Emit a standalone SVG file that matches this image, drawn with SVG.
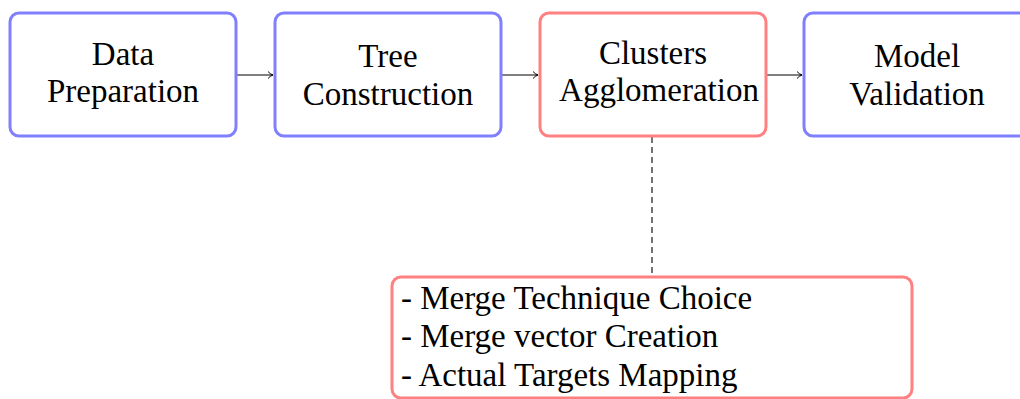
<svg xmlns="http://www.w3.org/2000/svg" width="1020" height="399" viewBox="0 0 1020 399">
<style>
.blue{fill:#fff;stroke:#8080ff;stroke-width:3}
.red{fill:#fff;stroke:#ff8080;stroke-width:3}
.t{font-family:"Liberation Serif","Times New Roman",serif;font-size:33px;fill:#000}
.c{text-anchor:middle}
.ln{stroke:#000;stroke-width:1.1;fill:none}
</style>
<defs>
<marker id="ah" markerWidth="10" markerHeight="10" refX="8" refY="5" orient="auto" markerUnits="userSpaceOnUse">
<path d="M3,1.5 Q5,4 8,5 Q5,6 3,8.5" fill="none" stroke="#000" stroke-width="1"/>
</marker>
</defs>
<g id="connectors">
<line class="ln" x1="237" y1="75" x2="273" y2="75" marker-end="url(#ah)"/>
<line class="ln" x1="502" y1="75" x2="538" y2="75" marker-end="url(#ah)"/>
<line class="ln" x1="767" y1="75" x2="802" y2="75" marker-end="url(#ah)"/>
<line class="ln" x1="652" y1="137" x2="652" y2="276" stroke-dasharray="6,4"/>
</g>
<g id="data-preparation">
<rect class="blue" x="10" y="13" width="226" height="123" rx="9"/>
<text class="t c" x="123" y="65">Data</text>
<text class="t c" x="123" y="102">Preparation</text>
</g>
<g id="tree-construction">
<rect class="blue" x="275" y="13" width="226" height="123" rx="9"/>
<text class="t c" x="388" y="67">Tree</text>
<text class="t c" x="388" y="105">Construction</text>
</g>
<g id="clusters-agglomeration">
<rect class="red" x="540" y="13" width="226" height="123" rx="9"/>
<text class="t c" x="653" y="64">Clusters</text>
<text class="t c" x="659" y="101">Agglomeration</text>
</g>
<g id="model-validation">
<rect class="blue" x="804" y="13" width="226" height="123" rx="9"/>
<text class="t c" x="917" y="67">Model</text>
<text class="t c" x="917" y="105">Validation</text>
</g>
<g id="details">
<rect class="red" x="392" y="277" width="520" height="121" rx="9"/>
<text class="t" x="401" y="309">- Merge Technique Choice</text>
<text class="t" x="401" y="347">- Merge vector Creation</text>
<text class="t" x="401" y="386">- Actual Targets Mapping</text>
</g>
</svg>
